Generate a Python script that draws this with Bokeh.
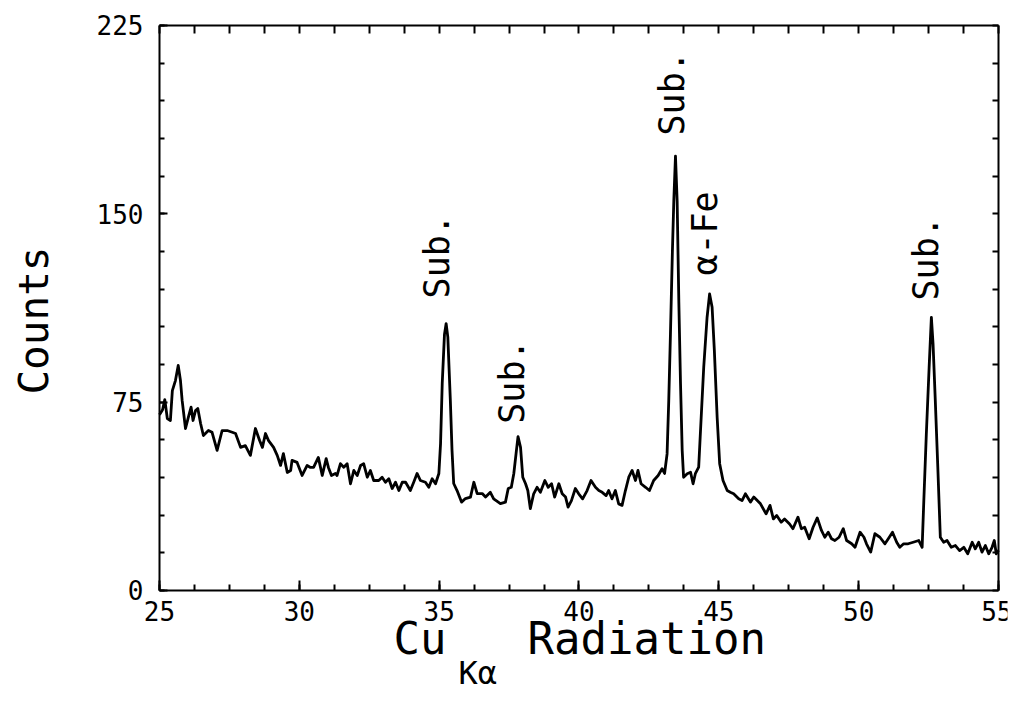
from math import pi
from bokeh.plotting import figure
from bokeh.models import Range1d, LinearAxis, FixedTicker, Label
from bokeh.embed import file_html
from bokeh.resources import INLINE

# ---- data ----
two_theta = [
    25.00, 25.11, 25.19, 25.28, 25.39, 25.46, 25.57, 25.67, 25.75, 25.81, 25.93,
    26.05, 26.13, 26.20, 26.29, 26.37, 26.47, 26.57, 26.75, 26.88, 27.06, 27.24,
    27.42, 27.60, 27.72, 27.90, 28.07, 28.25, 28.43, 28.58, 28.68, 28.79, 28.90,
    29.08, 29.21, 29.33, 29.43, 29.57, 29.69, 29.74, 29.92, 30.10, 30.28, 30.40,
    30.51, 30.68, 30.82, 30.96, 31.04, 31.15, 31.29,
    31.35, 31.47, 31.59, 31.71, 31.83, 31.95, 32.07, 32.19, 32.30, 32.43, 32.54,
    32.66, 32.84, 32.96, 33.08, 33.20, 33.32, 33.44, 33.56, 33.68, 33.80, 33.97,
    34.09, 34.21, 34.33, 34.51, 34.63, 34.75, 34.87, 34.99, 35.05, 35.11, 35.19,
    35.25, 35.31, 35.40, 35.46, 35.52, 35.64, 35.80, 35.94, 36.12, 36.24, 36.36,
    36.54, 36.66, 36.83, 36.95,
    37.19, 37.37, 37.47, 37.58, 37.67, 37.75, 37.82, 37.91, 37.99, 38.09, 38.17,
    38.26, 38.38, 38.50, 38.62, 38.78, 38.90, 39.02, 39.13, 39.28, 39.40, 39.52,
    39.61, 39.73, 39.87, 39.99, 40.13, 40.29, 40.43, 40.59, 40.71, 40.83, 40.97,
    41.06, 41.18, 41.30, 41.42, 41.54, 41.66, 41.78, 41.90, 42.02, 42.11, 42.22,
    42.38, 42.52, 42.67, 42.83, 42.97, 43.06,
    43.15, 43.21, 43.27, 43.34, 43.39, 43.45, 43.51, 43.57, 43.63, 43.69, 43.74,
    43.87, 43.99, 44.08, 44.16, 44.28, 44.34, 44.46, 44.58, 44.67, 44.76, 44.84,
    44.94, 45.03, 45.15, 45.30, 45.41, 45.53, 45.71, 45.83, 45.95, 46.13, 46.25,
    46.49,
    46.69, 46.83, 46.95, 47.07, 47.23, 47.35, 47.53, 47.65, 47.83, 47.95, 48.07,
    48.23, 48.37, 48.52, 48.67, 48.79, 48.91, 49.03, 49.15, 49.30, 49.45, 49.57,
    49.75, 49.87, 50.05, 50.19, 50.28, 50.43, 50.58, 50.76, 50.94, 51.06, 51.21,
    51.36, 51.47, 51.61, 51.77, 51.95,
    52.15, 52.27, 52.33, 52.42, 52.52, 52.60, 52.66, 52.74, 52.83, 52.92, 53.04,
    53.16, 53.31, 53.46, 53.61, 53.76, 53.90, 54.06, 54.17, 54.29, 54.41, 54.53,
    54.65, 54.77, 54.85, 54.92, 55.00,
]
counts = [
    70, 72, 76, 68.5, 67.7, 79.6, 83.6, 89.6, 83.6, 75.7, 64.5,
    69.7, 73, 67.7, 71.7, 72.5, 66.5, 61.7, 63.7, 63, 55.8, 63.7,
    63.7, 63, 62.5, 57, 57.7, 53.8, 64.5, 59.7, 57, 62.5, 59.7,
    57, 53.8, 49.8, 54.5, 47, 47.8, 51.8, 51, 45.8, 49.8, 49,
    49, 53, 45.8, 52.5, 49, 45.8, 46.6,
    45.8, 50.5, 49.1, 50.5, 42.5, 47.8, 45.8, 49.8, 50.5, 45.1, 47.8,
    43.8, 43.8, 45.1, 43.1, 44.5, 40.6, 43.1, 39.8, 43.1, 43.1, 39.8,
    43.1, 46.6, 43.8, 43.1, 41.1, 44.5, 42.5, 46.6, 58.5, 82.4, 102,
    106.3, 100.9, 75.7, 55.8, 42.6, 39.8, 35.2, 36.6, 37.2, 43.1, 38.6,
    38.6, 37.2, 39.1, 36.5,
    34.6, 35.2, 40.6, 41.1, 46.6, 54.5, 61.3, 57, 45.1, 42.5, 39.8,
    32.6, 38.5, 41.1, 39.1, 43.8, 41.1, 42.5, 37.2, 42.5, 38.5, 37.2,
    33.2, 35.8, 40.6, 38.5, 36.5, 39.8, 43.8, 41.1, 39.8, 39.1, 37.8,
    39.8, 36.5, 39.8, 34.5, 33.9, 39.8, 45.1, 47.8, 43.8, 47.8, 42.5,
    41.1, 39.8, 43.8, 45.8, 48.5, 46.6,
    54.4, 75.7, 102, 135, 155, 173, 155, 115, 82.4, 55.8, 45.1,
    46.5, 47.1, 42.5, 46.5, 49.1, 62.5, 88.9, 108.8, 118.1, 112.8, 95.6,
    69, 50.5, 43.8, 39.8, 39.1, 38.5, 36.5, 35.8, 38.5, 35.2, 37.2,
    34.5,
    30.5, 33.9, 28.5, 29.9, 27.2, 28.5, 26.5, 24.6, 29.2, 24.6, 25.2,
    20.6, 25.2, 28.9, 23.9, 21.2, 23.2, 20.6, 19.9, 21.2, 24.6, 19.9,
    18.6, 17.2, 23.2, 21.2, 18.6, 15.3, 22.6, 21.2, 18.6, 20.6, 23.2,
    19.2, 17.2, 18.6, 18.6, 19.2,
    19.9, 17.2, 35.8, 62.4, 88.9, 108.8, 98.2, 75.7, 49.1, 21.2, 19.2,
    19.9, 17.2, 17.9, 15.9, 17.2, 14.6, 19.2, 16.6, 19.2, 15.3, 17.9,
    14.6, 17.2, 19.9, 14.6, 16,
]

x_major = [25, 30, 35, 40, 45, 50, 55]
x_minor = [25, 26.25, 27.5, 28.75, 30, 31.25, 32.5, 33.75, 35, 36.25, 37.5,
           38.75, 40, 41.25, 42.5, 43.75, 45, 46.25, 47.5, 48.75, 50, 51.25,
           52.5, 53.75, 55]
y_major = [0, 75, 150, 225]
y_minor = [0, 15, 30, 45, 60, 75, 90, 105, 120, 135, 150, 165, 180, 195, 210, 225]

peak_text = ["Sub.", "Sub.", "Sub.", "\u03b1-Fe", "Sub."]
peak_text_x = [34.91, 37.62, 43.31, 44.49, 52.42]
peak_text_y = [116.3, 66.4, 181.2, 125.4, 115.5]

FONT = "DejaVu Sans Mono"
X0, X1, Y0, Y1 = 25, 55, 0, 225

# The frame is widened on every side so that the tick labels and axis titles sit
# inside it; the four axes are pinned to the data box 25..55 x 0..225.
p = figure(width=1012, height=704, x_range=Range1d(19.494, 55.322),
           y_range=Range1d(-43.81, 232.96),
           output_backend="svg", toolbar_location=None,
           min_border_left=5, min_border_right=5, min_border_top=5,
           min_border_bottom=4)
p.xgrid.visible = False
p.ygrid.visible = False
p.outline_line_color = None
p.background_fill_color = "white"
p.border_fill_color = "white"

p.line(two_theta, counts, line_color="black", line_width=2.8, line_join="round")

for ax in (p.xaxis[0], p.yaxis[0]):
    ax.axis_line_width = 2
    ax.axis_line_color = "black"
    ax.major_tick_line_width = 2
    ax.minor_tick_line_width = 2
    ax.major_tick_out = 0
    ax.minor_tick_out = 0
    ax.major_label_text_font = FONT
    ax.major_label_text_font_size = "26px"
    ax.major_label_text_color = "black"

p.xaxis.fixed_location = Y0
p.xaxis.bounds = (X0, X1)
p.xaxis.ticker = FixedTicker(ticks=x_major, minor_ticks=x_minor)
p.xaxis.major_tick_in = 10
p.xaxis.minor_tick_in = 6
p.xaxis.major_label_standoff = 11

p.yaxis.fixed_location = X0
p.yaxis.bounds = (Y0, Y1)
p.yaxis.ticker = FixedTicker(ticks=y_major, minor_ticks=y_minor)
p.yaxis.major_tick_in = 8
p.yaxis.minor_tick_in = 5
p.yaxis.major_label_standoff = 16

top = LinearAxis(ticker=FixedTicker(ticks=x_minor, minor_ticks=[]), bounds=(X0, X1),
                 fixed_location=Y1,
                 axis_line_width=2, major_tick_line_width=2,
                 major_tick_in=8, major_tick_out=0, minor_tick_in=0, minor_tick_out=0,
                 major_label_text_color=None, major_label_text_font_size="1px",
                 major_label_standoff=0)
p.add_layout(top, "above")
right = LinearAxis(ticker=FixedTicker(ticks=y_minor, minor_ticks=[]), bounds=(Y0, Y1),
                   fixed_location=X1,
                   axis_line_width=2, major_tick_line_width=2,
                   major_tick_in=6, major_tick_out=0, minor_tick_in=0, minor_tick_out=0,
                   major_label_text_color=None, major_label_text_font_size="1px",
                   major_label_standoff=0)
p.add_layout(right, "right")

for t, lx, ly in zip(peak_text, peak_text_x, peak_text_y):
    p.add_layout(Label(x=lx, y=ly, text=t, angle=pi / 2, text_align="left",
                       text_baseline="alphabetic", text_font=FONT,
                       text_font_size="35px", text_color="black"))

# axis titles
p.add_layout(Label(x=20.53, y=107.5, text="Counts", angle=pi / 2, text_align="center",
                   text_baseline="alphabetic", text_font=FONT, text_font_size="41px",
                   text_color="black"))
p.add_layout(Label(x=33.37, y=-19.1, text="Cu", text_align="left",
                   text_baseline="alphabetic", text_font=FONT, text_font_size="44px",
                   text_color="black"))
p.add_layout(Label(x=35.69, y=-33.0, text="K\u03b1", text_align="left",
                   text_baseline="alphabetic", text_font=FONT, text_font_size="32px",
                   text_color="black"))
p.add_layout(Label(x=38.16, y=-19.1, text="Radiation", text_align="left",
                   text_baseline="alphabetic", text_font=FONT, text_font_size="44px",
                   text_color="black"))

open("out.html", "w").write(file_html(p, INLINE))
